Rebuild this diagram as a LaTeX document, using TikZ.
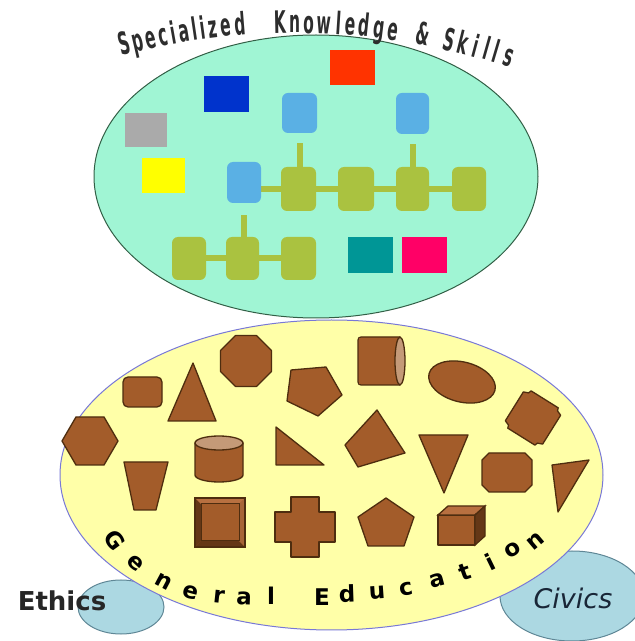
\documentclass[tikz,border=0pt]{standalone}
\usepackage{fontspec}
\newfontfamily\arcfont[FakeStretch=0.5]{DejaVu Sans}
\newfontfamily\genfont{DejaVu Sans}
\usetikzlibrary{calc}
\definecolor{ellgreen}{RGB}{160,245,212}
\definecolor{ellgreenline}{RGB}{50,95,70}
\definecolor{ellyellow}{RGB}{255,255,168}
\definecolor{ellyellowline}{RGB}{120,120,215}
\definecolor{smallblue}{RGB}{172,216,226}
\definecolor{smallblueline}{RGB}{95,135,150}
\definecolor{lbcol}{RGB}{90,176,228}
\definecolor{olivecol}{RGB}{170,194,64}
\definecolor{redcol}{RGB}{255,51,0}
\definecolor{dbluecol}{RGB}{0,51,204}
\definecolor{graycol}{RGB}{170,170,170}
\definecolor{yelcol}{RGB}{255,255,0}
\definecolor{tealcol}{RGB}{0,150,150}
\definecolor{pinkcol}{RGB}{255,0,102}
\definecolor{browncol}{RGB}{163,92,42}
\definecolor{brownline}{RGB}{78,45,15}
\definecolor{brownlight}{RGB}{196,154,120}
\definecolor{browndark}{RGB}{100,55,22}
\definecolor{brownmid}{RGB}{184,112,64}
\definecolor{toptextcol}{RGB}{45,45,45}
\tikzset{
  sqbox/.style={rectangle, inner sep=0pt, draw=none},
  rbox/.style={rectangle, rounded corners=6pt, inner sep=0pt, draw=none},
  chain/.style={line width=6pt, draw=olivecol},
  bshape/.style={fill=browncol, draw=brownline, line width=1.3pt, line join=round},
  toptext/.style={font=\arcfont\bfseries\fontsize{31}{31}\selectfont, text=toptextcol, inner sep=0pt},
  gentext/.style={font=\genfont\bfseries\fontsize{23}{23}\selectfont, text=black, inner sep=0pt}
}
\begin{document}
\begin{tikzpicture}[x=1pt,y=1pt]
\useasboundingbox (0,0) rectangle (635,641);
% side ellipses
\filldraw[fill=smallblue, draw=smallblueline, line width=1pt] (121,34) ellipse [x radius=43, y radius=27];
\filldraw[fill=smallblue, draw=smallblueline, line width=1pt] (572,45) ellipse [x radius=72, y radius=45];
% main ellipses
\filldraw[fill=ellyellow, draw=ellyellowline, line width=1pt] (331.5,166) ellipse [x radius=271.5, y radius=155];
\filldraw[fill=ellgreen, draw=ellgreenline, line width=1pt] (316,464.5) ellipse [x radius=222, y radius=141.5];

% top text along arc
\foreach \ch/\x [count=\i] in {S/127,p/140,e/153,c/165,i/175,a/186,l/196,i/204,z/214,e/227,d/241,K/281,n/295,o/309,w/324,l/338,e/350,d/363,g/378,e/392,\&/421,S/447,k/461,i/473,l/484,l/493,s/506}{
  \pgfmathsetmacro\yy{641-(33+0.00075*(\x-295)*(\x-295))}
  \pgfmathsetmacro\rot{atan(-0.0015*(\x-295))}
  \node[toptext, anchor=base, rotate=\rot] (top\i) at (\x,\yy) {\ch};
}

% coloured boxes
\node[sqbox, fill=redcol, minimum width=45pt, minimum height=35pt] (red) at (352.5,573.5) {};
\node[sqbox, fill=dbluecol, minimum width=45pt, minimum height=36pt] (dblue) at (226.5,547) {};
\node[sqbox, fill=graycol, minimum width=42pt, minimum height=34pt] (gray) at (146,511) {};
\node[sqbox, fill=yelcol, minimum width=43pt, minimum height=35pt] (yel) at (163.5,465.5) {};
\node[sqbox, fill=tealcol, minimum width=45pt, minimum height=36pt] (teal) at (370.5,386) {};
\node[sqbox, fill=pinkcol, minimum width=45pt, minimum height=36pt] (pink) at (424.5,386) {};

\node[rbox, fill=lbcol, minimum width=35pt, minimum height=40pt] (lb1) at (299.5,528) {};
\node[rbox, fill=lbcol, minimum width=33pt, minimum height=41pt] (lb2) at (412.5,527.5) {};

% invisible placeholders for chain geometry
\path (298.5,452) coordinate (c1) (356,452) coordinate (c2) (412.5,452) coordinate (c3) (469,452) coordinate (c4);
\path (189,382.5) coordinate (d1) (242.5,382.5) coordinate (d2) (298.5,382.5) coordinate (d3);

% connectors
\node[rbox, minimum width=34pt, minimum height=41pt] (lb3) at (244,458.5) {};
\draw[chain] (lb3.center |- c1) -- (c4);
\draw[chain] ([yshift=-10pt]lb1.south) -- ([yshift=-10pt]lb1.south |- c1);
\draw[chain] ([yshift=-10pt]lb2.south) -- ([yshift=-10pt]lb2.south |- c3);
\draw[chain] (d1) -- (d3);
\draw[chain] ([yshift=-12pt]lb3.south) -- ([yshift=-12pt]lb3.south |- d2);

% chain boxes
\node[rbox, fill=olivecol, minimum width=35pt, minimum height=44pt] (o1) at (c1) {};
\node[rbox, fill=olivecol, minimum width=36pt, minimum height=44pt] (o2) at (c2) {};
\node[rbox, fill=olivecol, minimum width=33pt, minimum height=44pt] (o3) at (c3) {};
\node[rbox, fill=olivecol, minimum width=34pt, minimum height=44pt] (o4) at (c4) {};
\node[rbox, fill=olivecol, minimum width=34pt, minimum height=43pt] (p1) at (d1) {};
\node[rbox, fill=olivecol, minimum width=33pt, minimum height=43pt] (p2) at (d2) {};
\node[rbox, fill=olivecol, minimum width=35pt, minimum height=43pt] (p3) at (d3) {};
\node[rbox, fill=lbcol, minimum width=34pt, minimum height=41pt] (lb3f) at (lb3) {};

% brown shapes
% 1 rounded rectangle
\filldraw[bshape, rounded corners=5pt] (123,234) rectangle (162,264);
% 2 triangle
\filldraw[bshape] (193,278) -- (168,220) -- (216,220) -- cycle;
% 3 octagon
\filldraw[bshape] (246,280) ++(22.5:27.5) \foreach \a in {67.5,112.5,...,337.5}{ -- ($(246,280)+(\a:27.5)$)} -- cycle;
% 4 pentagon rotated
\filldraw[bshape] (291,271) -- (326,274) -- (342,246) -- (318,225) -- (287,240) -- cycle;
% 5 horizontal cylinder
\filldraw[bshape, rounded corners=3pt] (400,256) -- (358,256) -- (358,304) -- (400,304);
\fill[browncol] (358.8,256.7) rectangle (400,303.3);
\filldraw[fill=brownlight, draw=brownline, line width=1.3pt] (400,280) ellipse [x radius=5, y radius=24];
% 6 ellipse
\filldraw[bshape, rotate around={-14:(462,259)}] (462,259) ellipse [x radius=34, y radius=20];
% 7 notched rotated octagon
\begin{scope}[shift={(533,223)}, rotate=-32]
\filldraw[bshape] (-16,-22) -- (16,-22) -- (17,-19) -- (22,-17) -- (22,17) -- (17,19) -- (16,22) -- (-16,22) -- (-17,19) -- (-22,17) -- (-22,-17) -- (-17,-19) -- cycle;
\end{scope}
% 8 hexagon
\filldraw[bshape] (118,200) -- (104,224) -- (76,224) -- (62,200) -- (76,176) -- (104,176) -- cycle;
% 9 inverted trapezoid
\filldraw[bshape] (124,179) -- (168,179) -- (156,131) -- (134,131) -- cycle;
% 10 vertical cylinder
\filldraw[bshape] (195,198) -- (195,166) arc[start angle=180, end angle=360, x radius=24, y radius=7] -- (243,198) -- cycle;
\filldraw[fill=brownlight, draw=brownline, line width=1.3pt] (219,198) ellipse [x radius=24, y radius=7];
% 11 right triangle
\filldraw[bshape] (276,214) -- (276,176) -- (324,176) -- cycle;
% 12 quadrilateral
\filldraw[bshape] (377,231) -- (405,188) -- (358,174) -- (345,196) -- cycle;
% 13 inverted triangle
\filldraw[bshape] (419,206) -- (468,206) -- (444,148) -- cycle;
% 14 chamfered rectangle
\filldraw[bshape] (489,149) -- (525,149) -- (532,156) -- (532,181) -- (525,188) -- (489,188) -- (482,181) -- (482,156) -- cycle;
% 15 triangle
\filldraw[bshape] (552,176) -- (589,181) -- (558,129) -- cycle;
% 16 bevelled square
\filldraw[bshape] (195,94) rectangle (245,143);
\fill[browndark] (195,94) -- (245,94) -- (239,100) -- (201,100) -- cycle;
\fill[browndark] (195,94) -- (201,100) -- (201,137) -- (195,143) -- cycle;
\fill[brownmid] (195,143) -- (245,143) -- (239,137) -- (201,137) -- cycle;
\fill[brownmid!80!browndark] (245,94) -- (245,143) -- (239,137) -- (239,100) -- cycle;
\draw[brownline, line width=1.3pt] (195,94) rectangle (245,143);
\draw[brownline, line width=1pt] (201,100) rectangle (239,137);
% 17 cross
\filldraw[bshape] (291,144) -- (319,144) -- (319,129) -- (335,129) -- (335,99) -- (319,99) -- (319,84) -- (291,84) -- (291,99) -- (275,99) -- (275,129) -- (291,129) -- cycle;
% 18 pentagon
\filldraw[bshape] (386,143) -- (358,124) -- (368,95) -- (404,95) -- (414,124) -- cycle;
% 19 cube
\filldraw[bshape] (438,96) rectangle (475,126);
\filldraw[fill=brownmid, draw=brownline, line width=1.3pt] (438,126) -- (448,135) -- (485,135) -- (475,126) -- cycle;
\filldraw[fill=browndark, draw=brownline, line width=1.3pt] (475,96) -- (485,105) -- (485,135) -- (475,126) -- cycle;

% General Education letters
\foreach \ch/\x/\y/\r [count=\i] in {G/115/540/-54, e/135/563/-43, n/164/582/-28, e/191/592/-15, r/219/597/-6, a/244/598/-2, l/271/596/0, E/322/597/0, d/347/594/2, u/377/593/4, c/406/589/10, a/437/580/15, t/465/572/20, i/490/562/26, o/513/550/33, n/536/541/40}{
  \node[gentext, rotate=\r] (gen\i) at (\x,641-\y) {\ch};
}

% side labels
\node[font=\genfont\bfseries\fontsize{26}{26}\selectfont, text=black!85, inner sep=0pt] (ethics) at (62,40) {Ethics};
\node[font=\genfont\itshape\fontsize{27}{27}\selectfont, text={rgb,255:red,25;green,38;blue,55}, inner sep=0pt] (civics) at (573,43) {Civics};
\end{tikzpicture}
\end{document}
